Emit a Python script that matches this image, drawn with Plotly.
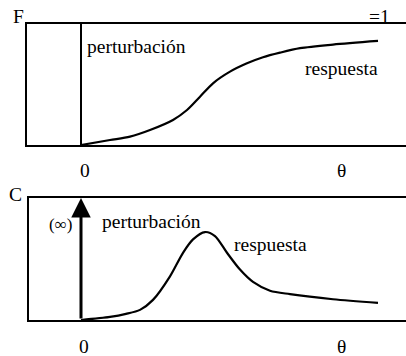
import plotly.graph_objects as go

# Cumulative response F(θ) to a step disturbance
theta_F = [0.0, 0.29, 0.49, 0.69, 0.92, 1.06, 1.19, 1.32, 1.49, 1.66, 1.82, 1.99, 2.19, 2.52, 2.97]
F_vals = [0.0, 0.041, 0.069, 0.124, 0.207, 0.289, 0.399, 0.51, 0.606, 0.675, 0.725, 0.763, 0.80, 0.83, 0.86]

# Concentration response C(θ) to a pulse disturbance
theta_C = [0.0, 0.29, 0.45, 0.59, 0.72, 0.89, 1.02, 1.12, 1.24, 1.34, 1.46, 1.59, 1.72, 1.89, 2.09, 2.52, 2.97]
C_vals = [0.0, 0.025, 0.05, 0.083, 0.165, 0.358, 0.551, 0.661, 0.721, 0.688, 0.551, 0.413, 0.312, 0.24, 0.212, 0.17, 0.14]

# Step and pulse disturbances at θ = 0
step_x = [0.0, 0.0]
step_y = [0.0, 1.0]

FONT = "Liberation Serif, Times New Roman, serif"
W, H = 406, 356
LINE = dict(color="black", width=2)
CURVE = dict(color="black", width=2.2, shape="spline", smoothing=0.8)

fig = go.Figure()
fig.add_trace(go.Scatter(x=step_x, y=step_y, mode="lines", line=LINE,
                         xaxis="x", yaxis="y", hoverinfo="skip"))
fig.add_trace(go.Scatter(x=theta_F, y=F_vals, mode="lines", line=CURVE,
                         xaxis="x", yaxis="y"))
fig.add_trace(go.Scatter(x=theta_C, y=C_vals, mode="lines", line=CURVE,
                         xaxis="x2", yaxis="y2"))

ax_common = dict(showgrid=False, zeroline=False, showticklabels=False, ticks="",
                 showline=True, linecolor="black", linewidth=2, fixedrange=True)

fig.update_layout(
    width=W, height=H,
    margin=dict(l=0, r=0, t=0, b=0),
    paper_bgcolor="white", plot_bgcolor="white",
    showlegend=False,
    font=dict(family=FONT, size=19.5, color="black"),
    xaxis=dict(domain=[27 / W, 1], range=[-0.54, 3.25], anchor="y", mirror=True, **ax_common),
    yaxis=dict(domain=[(H - 145) / H, (H - 24) / H], range=[0, 1], anchor="x", mirror=False, **ax_common),
    xaxis2=dict(domain=[29 / W, 1], range=[-0.52, 3.25], anchor="y2", mirror=True, **ax_common),
    yaxis2=dict(domain=[(H - 320) / H, (H - 198) / H], range=[0, 1], anchor="x2", mirror=False, **ax_common),
)

def label(text, x, y, xref, yref, xanchor="center", size=19.5):
    fig.add_annotation(text=text, x=x, y=y, xref=xref, yref=yref, showarrow=False,
                       xanchor=xanchor, yanchor="middle", font=dict(family=FONT, size=size, color="black"))

# Upper panel labels
label("F", 18 / W, (H - 17) / H, "paper", "paper")
label("=1", 2.98, 1.06, "x", "y domain")
label("perturbación", 0.04, 0.81, "x", "y", xanchor="left")
label("respuesta", 2.605, 0.635, "x", "y")
label("0", 0.04, -0.207, "x", "y domain")
label("θ", 2.6, -0.207, "x", "y domain")

# Lower panel labels
label("C", 15 / W, (H - 195) / H, "paper", "paper")
label("(∞)", -0.21, 0.785, "x2", "y2", size=17)
label("perturbación", 0.19, 0.81, "x2", "y2", xanchor="left")
label("respuesta", 1.51, 0.62, "x2", "y2", xanchor="left")
label("0", 0.03, -0.215, "x2", "y2 domain")
label("θ", 2.6, -0.215, "x2", "y2 domain")

# Pulse (Dirac delta) drawn as an upward arrow
fig.add_annotation(x=0, y=1, ax=0, ay=0, xref="x2", yref="y2", axref="x2", ayref="y2",
                   showarrow=True, arrowhead=2, arrowsize=1.3, arrowwidth=3, arrowcolor="black", text="")

fig.write_html("out.html")
